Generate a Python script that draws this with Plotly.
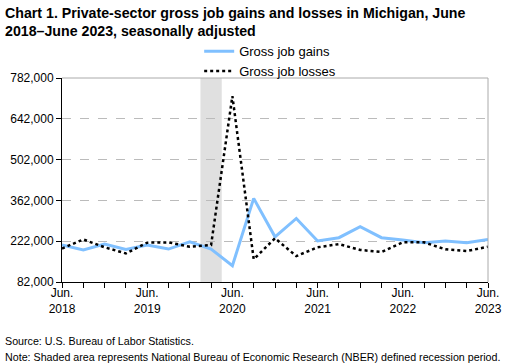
import plotly.graph_objects as go

quarters = list(range(21))
tick_labels = ["Jun.<br>2018", "", "", "", "Jun.<br>2019", "", "", "", "Jun.<br>2020", "", "", "",
               "Jun.<br>2021", "", "", "", "Jun.<br>2022", "", "", "", "Jun.<br>2023"]
gains = [209000, 192000, 212000, 194000, 209000, 195000, 220000, 195000, 138000, 369000, 237000,
         300000, 223000, 234000, 272000, 234000, 226000, 217000, 223000, 217000, 228000]
losses = [197000, 228000, 201000, 180000, 217000, 218000, 203000, 209000, 720000, 160000, 232000,
          171000, 201000, 212000, 192000, 185000, 218000, 218000, 194000, 188000, 203000]
recession = [6.5, 7.5]
y_ticks = [82000, 222000, 362000, 502000, 642000, 782000]

fig = go.Figure()
fig.add_vrect(x0=recession[0], x1=recession[1], fillcolor="#E0E0E0", line_width=0, layer="below")
fig.add_trace(go.Scatter(x=quarters, y=gains, mode="lines", name="Gross job gains",
                         line=dict(color="#80C0FF", width=3)))
fig.add_trace(go.Scatter(x=quarters, y=losses, mode="lines", name="Gross job losses",
                         line=dict(color="black", width=2.5, dash="dot")))

fig.add_shape(type="line", xref="paper", yref="paper", x0=0, x1=1, y0=1, y1=1,
              line=dict(color="#AAAAAA", width=1))
fig.add_shape(type="line", xref="paper", yref="paper", x0=1, x1=1, y0=0, y1=1,
              line=dict(color="#AAAAAA", width=1))

fig.update_layout(
    width=512, height=364,
    margin=dict(l=62, r=24, t=78, b=82, autoexpand=False),
    paper_bgcolor="white", plot_bgcolor="white",
    font=dict(family="Liberation Sans, Arial, sans-serif", size=12, color="black"),
    legend=dict(x=0.322, xanchor="left", y=1.205, yanchor="top", bgcolor="rgba(0,0,0,0)",
                font=dict(size=13), tracegroupgap=0, itemwidth=30),
    showlegend=True,
)
fig.add_annotation(text="<b>Chart 1. Private-sector gross job gains and losses in Michigan, June<br>2018–June 2023, seasonally adjusted</b>",
                   xref="paper", yref="paper", x=-0.138, y=1.37, xanchor="left", yanchor="top",
                   align="left", showarrow=False, font=dict(size=14.2))
fig.update_xaxes(range=[0, 20], tickmode="array", tickvals=quarters, ticktext=tick_labels,
                 ticks="outside", ticklen=5, tickcolor="black", showline=True, linecolor="black",
                 linewidth=1, showgrid=False, zeroline=False, tickangle=0, fixedrange=True,
                 ticklabelstandoff=-5)
fig.update_yaxes(range=[82000, 782000], tickmode="array", tickvals=y_ticks,
                 ticktext=[f"{v:,}" for v in y_ticks], ticks="outside", ticklen=5, tickcolor="black",
                 showline=True, linecolor="black", linewidth=1, showgrid=True, gridcolor="#BBBBBB",
                 griddash="dash", zeroline=False, fixedrange=True)

fig.add_annotation(text="Source: U.S. Bureau of Labor Statistics.", xref="paper", yref="paper",
                   x=-0.138, y=-0.25, xanchor="left", yanchor="top", showarrow=False,
                   font=dict(size=10.7))
fig.add_annotation(text="Note: Shaded area represents National Bureau of Economic Research (NBER) defined recession period.",
                   xref="paper", yref="paper", x=-0.138, y=-0.328, xanchor="left", yanchor="top",
                   showarrow=False, font=dict(size=10.7))

fig.write_html("out.html", config={"displayModeBar": False},
               post_script="document.body.style.margin='0';document.body.style.overflow='hidden';")
